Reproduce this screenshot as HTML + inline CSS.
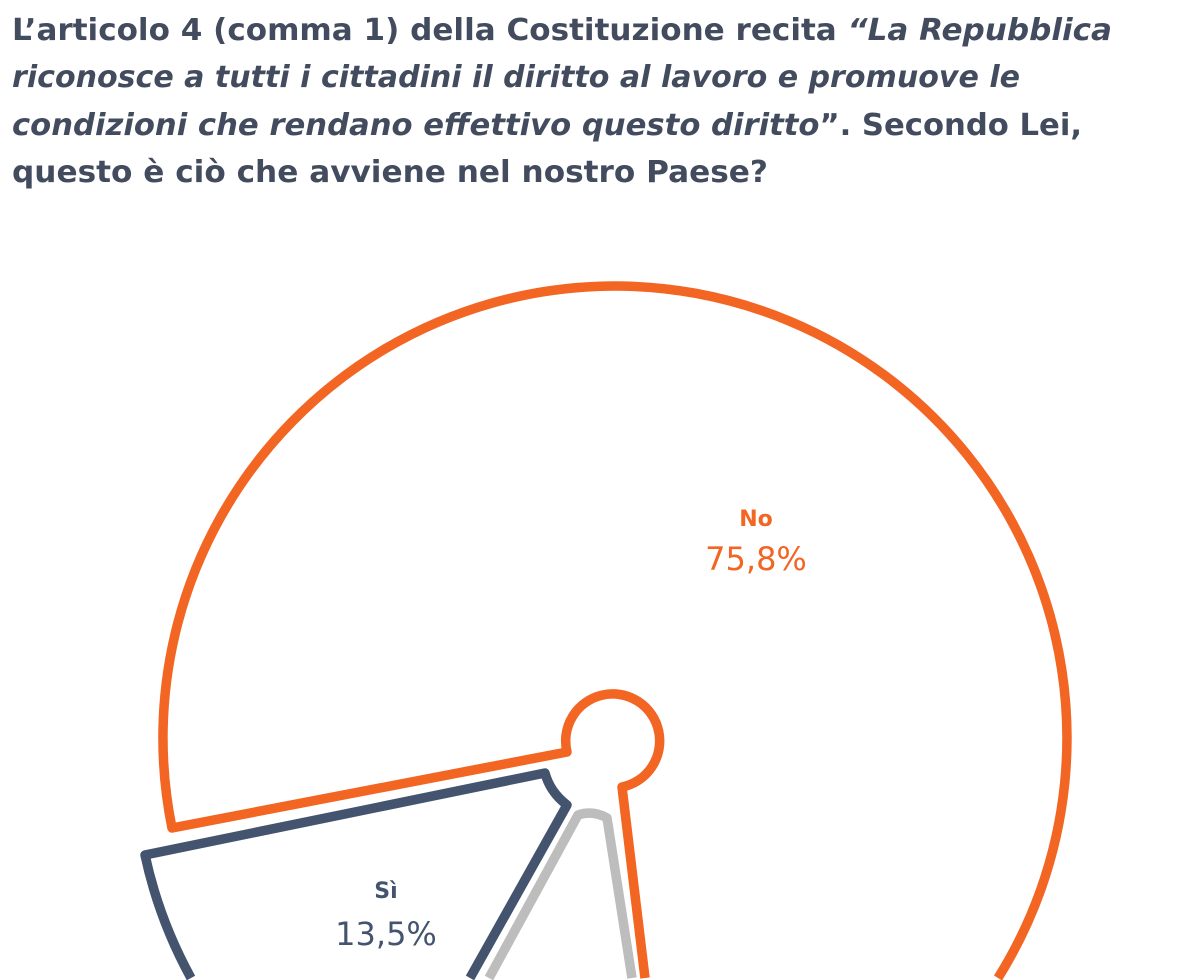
<!DOCTYPE html>
<html><head><meta charset="utf-8"><style>
html,body{margin:0;padding:0;background:#fff;width:1200px;height:980px;overflow:hidden}
svg{display:block;overflow:hidden}
</style></head><body>
<svg width="1200" height="980" viewBox="0 0 1200 980" xmlns="http://www.w3.org/2000/svg">
<g font-family="'DejaVu Sans','Liberation Sans',sans-serif" font-weight="bold" font-size="30" fill="#434c5e">
<text x="12" y="40" textLength="1100" lengthAdjust="spacingAndGlyphs">L’articolo 4 (comma 1) della Costituzione recita <tspan font-style="italic">“La Repubblica</tspan></text>
<text x="12" y="87" textLength="1008" lengthAdjust="spacingAndGlyphs" font-style="italic">riconosce a tutti i cittadini il diritto al lavoro e promuove le</text>
<text x="12" y="135" textLength="1070" lengthAdjust="spacingAndGlyphs"><tspan font-style="italic">condizioni che rendano effettivo questo diritto</tspan>”. Secondo Lei,</text>
<text x="12" y="182" textLength="756" lengthAdjust="spacingAndGlyphs">questo è ciò che avviene nel nostro Paese?</text>
</g>
<g fill="none" stroke-width="9.5" stroke-linejoin="round">
<path d="M632 978 L607 818 Q593 810 578 815 L489 978" stroke="#bdbdbd"/>
<path d="M191 978 A455 455 0 0 1 145 855 L545 773 Q550 792 567 805 L470 978" stroke="#44546f"/>
<path d="M645 978 L622 787 A47 47 0 1 0 567 752 L172 828 A452 452 0 1 1 998 978" stroke="#f26522"/>
</g>
<g font-family="'DejaVu Sans','Liberation Sans',sans-serif" text-anchor="middle">
<text x="756" y="526" font-size="22" font-weight="bold" fill="#f26522">No</text>
<text x="756" y="570" font-size="32" fill="#f26522">75,8%</text>
<text x="386" y="898" font-size="22" font-weight="bold" fill="#44546f">Sì</text>
<text x="386" y="945" font-size="32" fill="#44546f">13,5%</text>
</g>
</svg>
</body></html>
